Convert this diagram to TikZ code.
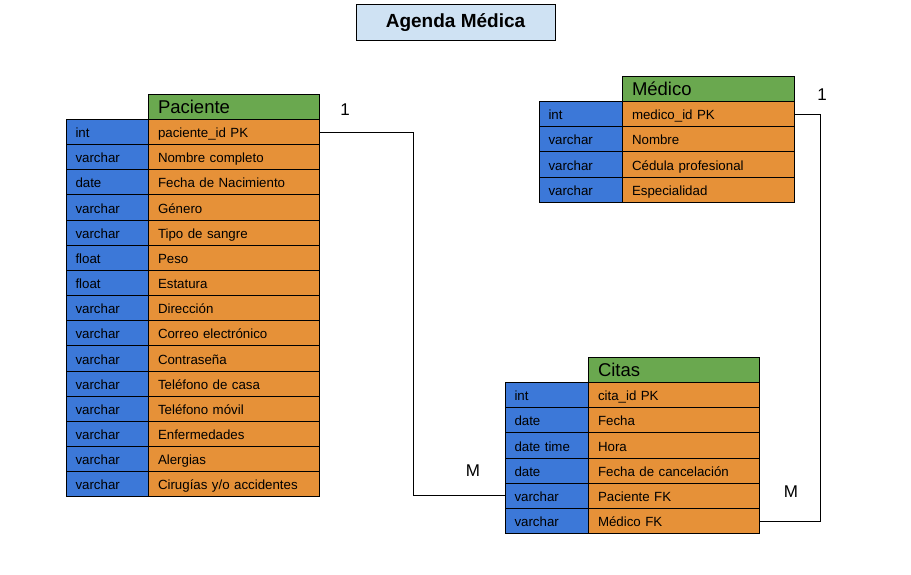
\documentclass[tikz,border=0pt]{standalone}
\usepackage{fontspec}
\setmainfont{Liberation Sans}
\definecolor{hdrgreen}{HTML}{6AA84F}
\definecolor{typeblue}{HTML}{3C78D8}
\definecolor{nameorange}{HTML}{E69138}
\definecolor{titleblue}{HTML}{CFE2F3}
\begin{document}
\begin{tikzpicture}[x=1pt,y=-1pt,
  cellbase/.style={draw=black,line width=1pt,rectangle,anchor=north west,inner ysep=0pt,inner xsep=9pt,align=left,text height=11.6pt,text depth=0.4pt,font=\fontsize{13.3}{15}\selectfont},
  typecell/.style={cellbase,fill=typeblue,text width=#1-18pt,minimum height=25.15pt},
  namecell/.style={cellbase,fill=nameorange,text width=#1-19pt,inner xsep=9.5pt,minimum height=25.15pt},
  hdrcell/.style={cellbase,fill=hdrgreen,text width=#1-19pt,inner xsep=9.5pt,minimum height=25pt,text height=14pt,text depth=0.4pt,font=\fontsize{18.5}{20}\selectfont},
  titlebox/.style={draw=black,line width=1pt,fill=titleblue,minimum width=199pt,minimum height=36pt,font=\bfseries\fontsize{19}{21}\selectfont},
  card/.style={font=\fontsize{17}{19}\selectfont,inner sep=0pt},
  conn/.style={draw=black,line width=1pt}
]
\useasboundingbox (0,0) rectangle (911,575);

\node[titlebox] (title) at (455.5,23) {Agenda Médica};

% Paciente
\node[hdrcell=171pt] (p-h) at (148,94) {Paciente};
\foreach \t/\n [count=\i] in {int/paciente\_id PK, varchar/Nombre completo, date/Fecha de Nacimiento, varchar/Género, varchar/Tipo de sangre, float/Peso, float/Estatura, varchar/Dirección, varchar/Correo electrónico, varchar/Contraseña, varchar/Teléfono de casa, varchar/Teléfono móvil, varchar/Enfermedades, varchar/Alergias, varchar/{Cirugías y/o accidentes}}{
  \node[typecell=82pt] (p-t\i) at (66,{119+(\i-1)*25.15}) {\t};
  \node[namecell=171pt] (p-n\i) at (148,{119+(\i-1)*25.15}) {\n};
}

% Medico
\node[hdrcell=172pt] (m-h) at (622,76) {Médico};
\foreach \t/\n [count=\i] in {int/medico\_id PK, varchar/Nombre, varchar/Cédula profesional, varchar/Especialidad}{
  \node[typecell=83pt] (m-t\i) at (539,{101+(\i-1)*25.2}) {\t};
  \node[namecell=172pt] (m-n\i) at (622,{101+(\i-1)*25.2}) {\n};
}

% Citas
\node[hdrcell=171pt] (c-h) at (588,357) {Citas};
\foreach \t/\n [count=\i] in {int/cita\_id PK, date/Fecha, date time/Hora, date/Fecha de cancelación, varchar/Paciente FK, varchar/Médico FK}{
  \node[typecell=83pt] (c-t\i) at (505,{382+(\i-1)*25.2}) {\t};
  \node[namecell=171pt] (c-n\i) at (588,{382+(\i-1)*25.2}) {\n};
}

% connectors
\coordinate (j1) at (413,0);
\coordinate (j2) at (820,0);
\draw[conn] (p-n1.east) -| (j1 |- c-t5.west) -- (c-t5.west);
\draw[conn] (m-n1.east) -| (j2 |- c-n6.east) -- (c-n6.east);

\node[card] (l1) at (345,110) {1};
\node[card] (l2) at (473,471) {M};
\node[card] (l3) at (822,95) {1};
\node[card] (l4) at (791,492) {M};
\end{tikzpicture}
\end{document}
